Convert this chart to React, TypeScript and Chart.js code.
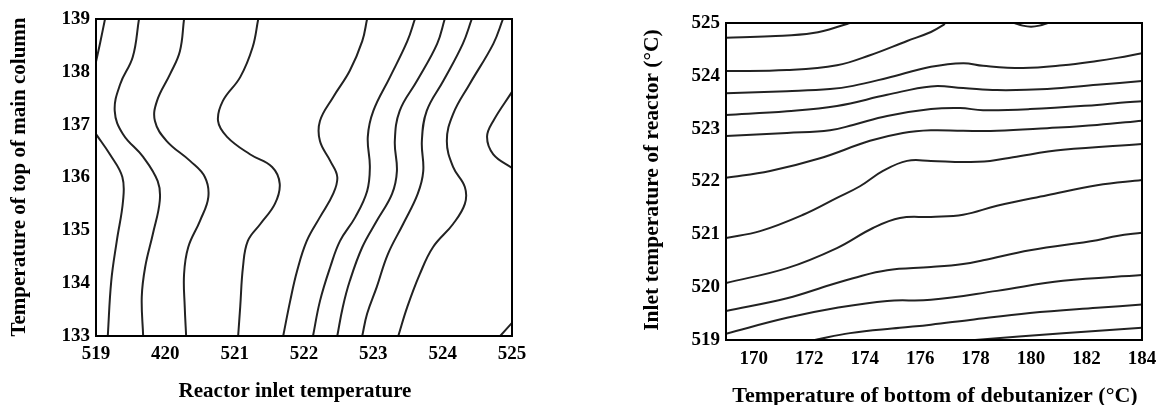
import React, { useEffect, useRef } from 'react';
import { Chart, registerables } from 'chart.js';

Chart.register(...registerables);

type P = [number, number];

// ---------- Left chart data ----------
const leftXTickValues = [519, 520, 521, 522, 523, 524, 525];
const leftXTickLabels = ['519', '420', '521', '522', '523', '524', '525'];
const leftYTickValues = [133, 134, 135, 136, 137, 138, 139];
const leftYTickLabels = ['133', '134', '135', '136', '137', '138', '139'];

const leftLine1: P[] = [[519.13, 139], [519.06, 138.55], [519, 138.19]];
const leftLine2: P[] = [[519, 136.82], [519.2, 136.44], [519.38, 136.01], [519.39, 135.56], [519.3, 134.8], [519.22, 134.04], [519.17, 133]];
const leftLine3: P[] = [[519.62, 139], [519.53, 138.28], [519.35, 137.77], [519.27, 137.26], [519.39, 136.82], [519.68, 136.39], [519.89, 135.93], [519.92, 135.56], [519.82, 134.93], [519.71, 134.31], [519.66, 133.74], [519.68, 133]];
const leftLine4: P[] = [[520.27, 139], [520.21, 138.39], [520.07, 137.96], [519.88, 137.45], [519.85, 137.07], [520.02, 136.69], [520.36, 136.31], [520.57, 136.01], [520.62, 135.63], [520.5, 135.18], [520.33, 134.68], [520.27, 134.17], [520.28, 133.55], [520.3, 133]];
const leftLine5: P[] = [[521.34, 139], [521.26, 138.47], [521.08, 137.9], [520.83, 137.45], [520.76, 137.07], [520.89, 136.77], [521.22, 136.44], [521.54, 136.2], [521.65, 135.88], [521.58, 135.5], [521.37, 135.12], [521.19, 134.8], [521.12, 134.31], [521.08, 133.55], [521.05, 133]];
const leftLine6: P[] = [[522.91, 139], [522.84, 138.58], [522.66, 138.02], [522.42, 137.52], [522.23, 137.07], [522.23, 136.69], [522.38, 136.31], [522.48, 136.01], [522.42, 135.69], [522.23, 135.25], [522.04, 134.8], [521.9, 134.23], [521.8, 133.66], [521.7, 133]];
const leftLine7: P[] = [[523.6, 139], [523.49, 138.58], [523.24, 137.9], [523, 137.26], [522.92, 136.77], [522.95, 136.2], [522.91, 135.74], [522.74, 135.25], [522.52, 134.8], [522.38, 134.31], [522.23, 133.66], [522.13, 133]];
const leftLine8: P[] = [[524.03, 139], [523.92, 138.53], [523.63, 137.83], [523.38, 137.26], [523.31, 136.69], [523.34, 136.12], [523.27, 135.69], [523.05, 135.18], [522.84, 134.68], [522.66, 134.04], [522.56, 133.55], [522.48, 133]];
const leftLine9: P[] = [[524.42, 139], [524.29, 138.53], [524.01, 137.83], [523.77, 137.26], [523.7, 136.69], [523.72, 136.12], [523.64, 135.69], [523.43, 135.12], [523.21, 134.55], [523.05, 133.93], [522.91, 133.42], [522.84, 133]];
const leftLine10: P[] = [[524.87, 139], [524.73, 138.53], [524.39, 137.77], [524.15, 137.2], [524.06, 136.69], [524.15, 136.2], [524.32, 135.82], [524.32, 135.5], [524.15, 135.12], [523.86, 134.68], [523.67, 134.17], [523.49, 133.55], [523.36, 133]];
const leftLine11: P[] = [[525, 137.62], [524.73, 137.07], [524.64, 136.77], [524.73, 136.44], [525, 136.18]];
const leftLine12: P[] = [[524.83, 133], [525, 133.25]];

const leftLines = [leftLine1, leftLine2, leftLine3, leftLine4, leftLine5, leftLine6, leftLine7, leftLine8, leftLine9, leftLine10, leftLine11, leftLine12];

// ---------- Right chart data ----------
const rightXTickValues = [170, 172, 174, 176, 178, 180, 182, 184];
const rightXTickLabels = ['170', '172', '174', '176', '178', '180', '182', '184'];
const rightYTickValues = [519, 520, 521, 522, 523, 524, 525];
const rightYTickLabels = ['519', '520', '521', '522', '523', '524', '525'];

const rightLine1: P[] = [[169, 524.72], [170.59, 524.75], [172.14, 524.81], [173.36, 524.98], [173.45, 525]];
const rightLine2: P[] = [[169, 524.09], [171.2, 524.11], [173, 524.2], [174.19, 524.39], [175.53, 524.66], [176.39, 524.83], [176.83, 524.96], [176.9, 525]];
const rightLine3: P[] = [[169, 523.67], [171.2, 523.71], [172.75, 523.75], [173.58, 523.81], [174.81, 523.96], [176.39, 524.17], [177.55, 524.24], [178.27, 524.19], [179.71, 524.15], [181.15, 524.2], [182.38, 524.28], [183.1, 524.34], [184, 524.43]];
const rightLine4: P[] = [[169, 523.26], [171.2, 523.33], [173, 523.43], [174.81, 523.64], [176.39, 523.8], [177.55, 523.77], [178.77, 523.73], [180.58, 523.75], [182.38, 523.83], [184, 523.9]];
const rightLine5: P[] = [[169, 522.86], [171.2, 522.92], [172.75, 522.97], [173.58, 523.07], [174.81, 523.24], [176.39, 523.37], [177.44, 523.39], [178.27, 523.35], [179.96, 523.37], [182.38, 523.45], [183.21, 523.49], [184, 523.52]];
const rightLine6: P[] = [[169, 522.07], [170.59, 522.2], [172.39, 522.44], [174.19, 522.77], [175.38, 522.92], [176.39, 522.97], [177.55, 522.96], [178.77, 522.96], [180.58, 523.01], [182.38, 523.07], [184, 523.15]];
const rightLine7: P[] = [[169, 520.93], [170.23, 521.06], [171.78, 521.37], [173, 521.69], [173.83, 521.91], [174.66, 522.2], [175.53, 522.39], [176.39, 522.39], [177.55, 522.37], [178.52, 522.39], [179.35, 522.46], [181.15, 522.6], [184, 522.71]];
const rightLine8: P[] = [[169, 520.08], [171.2, 520.36], [173, 520.74], [174.3, 521.12], [175.27, 521.31], [176.39, 521.33], [177.55, 521.37], [178.77, 521.54], [180.58, 521.74], [182.38, 521.93], [184, 522.03]];
const rightLine9: P[] = [[169, 519.55], [171.2, 519.79], [172.75, 520.04], [173.58, 520.17], [174.81, 520.32], [176.39, 520.38], [177.55, 520.44], [178.27, 520.51], [179.96, 520.7], [182.38, 520.89], [183.1, 520.97], [184, 521.03]];
const rightLine10: P[] = [[169, 519.12], [171.2, 519.42], [173, 519.61], [174.81, 519.74], [176.39, 519.76], [178.77, 519.93], [181.15, 520.12], [184, 520.23]];
const rightLine11: P[] = [[172.2, 519], [173.47, 519.13], [175.27, 519.23], [176.39, 519.29], [177.8, 519.38], [179.96, 519.51], [182.38, 519.61], [184, 519.67]];
const rightLine12: P[] = [[177.98, 519], [181.15, 519.13], [184, 519.23]];
const rightLine13: P[] = [[179.4, 525], [179.7, 524.95], [180, 524.93], [180.3, 524.95], [180.6, 525]];

const rightLines = [rightLine1, rightLine2, rightLine3, rightLine4, rightLine5, rightLine6, rightLine7, rightLine8, rightLine9, rightLine10, rightLine11, rightLine12, rightLine13];

// ---------- Shared config ----------
const FONT = '"Liberation Serif", "Times New Roman", serif';

const framePlugin = {
  id: 'frameTitles',
  afterDraw(chart: any, _args: any, opts: any) {
    const { ctx, chartArea } = chart;
    ctx.save();
    ctx.strokeStyle = '#000';
    ctx.lineWidth = 2;
    ctx.strokeRect(chartArea.left, chartArea.top, chartArea.right - chartArea.left, chartArea.bottom - chartArea.top);
    ctx.fillStyle = '#000';
    ctx.textAlign = 'center';
    ctx.textBaseline = 'middle';
    ctx.font = `bold ${opts.xSize}px ${FONT}`;
    ctx.fillText(opts.xTitle, opts.xTitleX, opts.xTitleY);
    ctx.font = `bold ${opts.ySize}px ${FONT}`;
    ctx.translate(opts.yTitleX, opts.yTitleY);
    ctx.rotate(-Math.PI / 2);
    ctx.fillText(opts.yTitle, 0, 0);
    ctx.restore();
  },
};

function buildConfig(p: any) {
  return {
    type: 'scatter',
    data: {
      datasets: p.lines.map((line: P[]) => ({
        data: line.map(([x, y]) => ({ x, y })),
        showLine: true,
        borderColor: '#222',
        borderWidth: 2,
        pointRadius: 0,
        tension: 0.4,
        fill: false,
      })),
    },
    options: {
      responsive: false,
      animation: false,
      events: [],
      layout: { padding: p.padding },
      plugins: {
        legend: { display: false },
        tooltip: { enabled: false },
        frameTitles: p.titles,
      },
      scales: {
        x: {
          type: 'linear',
          min: p.xMin,
          max: p.xMax,
          grid: { display: false, drawTicks: false },
          border: { display: false },
          afterBuildTicks: (s: any) => { s.ticks = p.xTickValues.map((v: number) => ({ value: v })); },
          afterFit: (s: any) => { s.height = p.xAxisHeight; s.paddingLeft = 0; s.paddingRight = 0; },
          ticks: {
            autoSkip: false,
            maxRotation: 0,
            padding: p.xTickPad,
            color: '#000',
            font: { family: FONT, size: 19, weight: 'bold' },
            callback: (_v: any, i: number) => p.xTickLabels[i],
          },
        },
        y: {
          type: 'linear',
          min: p.yMin,
          max: p.yMax,
          grid: { display: false, drawTicks: false },
          border: { display: false },
          afterBuildTicks: (s: any) => { s.ticks = p.yTickValues.map((v: number) => ({ value: v })); },
          afterFit: (s: any) => { s.width = p.yAxisWidth; s.paddingTop = 0; s.paddingBottom = 0; },
          ticks: {
            autoSkip: false,
            padding: 6,
            color: '#000',
            font: { family: FONT, size: 19, weight: 'bold' },
            callback: (_v: any, i: number) => p.yTickLabels[i],
          },
        },
      },
    },
    plugins: [framePlugin],
  } as any;
}

function ContourChart({ params, left }: { params: any; left: number }) {
  const ref = useRef<HTMLCanvasElement>(null);
  useEffect(() => {
    const chart = new Chart(ref.current as HTMLCanvasElement, buildConfig(params));
    return () => chart.destroy();
  }, []);
  return (
    <canvas
      ref={ref}
      width={579}
      height={405}
      style={{ position: 'absolute', left, top: 0, width: 579, height: 405 }}
    />
  );
}

const leftParams = {
  lines: leftLines,
  xMin: 519, xMax: 525, yMin: 133, yMax: 139,
  xTickValues: leftXTickValues, xTickLabels: leftXTickLabels,
  yTickValues: leftYTickValues, yTickLabels: leftYTickLabels,
  padding: { left: 0, right: 67, top: 19, bottom: 0 },
  xAxisHeight: 69, yAxisWidth: 96, xTickPad: 7,
  titles: {
    xSize: 21, ySize: 21,
    xTitle: 'Reactor inlet temperature', xTitleX: 295, xTitleY: 392,
    yTitle: 'Temperature of top of main column', yTitleX: 20, yTitleY: 177,
  },
};

const rightParams = {
  lines: rightLines,
  xMin: 169, xMax: 184, yMin: 519, yMax: 525,
  xTickValues: rightXTickValues, xTickLabels: rightXTickLabels,
  yTickValues: rightYTickValues, yTickLabels: rightYTickLabels,
  padding: { left: 0, right: 16, top: 23, bottom: 0 },
  xAxisHeight: 65, yAxisWidth: 147, xTickPad: 8,
  titles: {
    xSize: 22, ySize: 21.5,
    xTitle: 'Temperature of bottom of debutanizer (°C)', xTitleX: 356, xTitleY: 396,
    yTitle: 'Inlet temperature of reactor (°C)', yTitleX: 73, yTitleY: 180,
  },
};

export default function App() {
  return (
    <div style={{ position: 'fixed', left: 0, top: 0, width: 1158, height: 405, background: '#fff' }}>
      <ContourChart params={leftParams} left={0} />
      <ContourChart params={rightParams} left={579} />
    </div>
  );
}
